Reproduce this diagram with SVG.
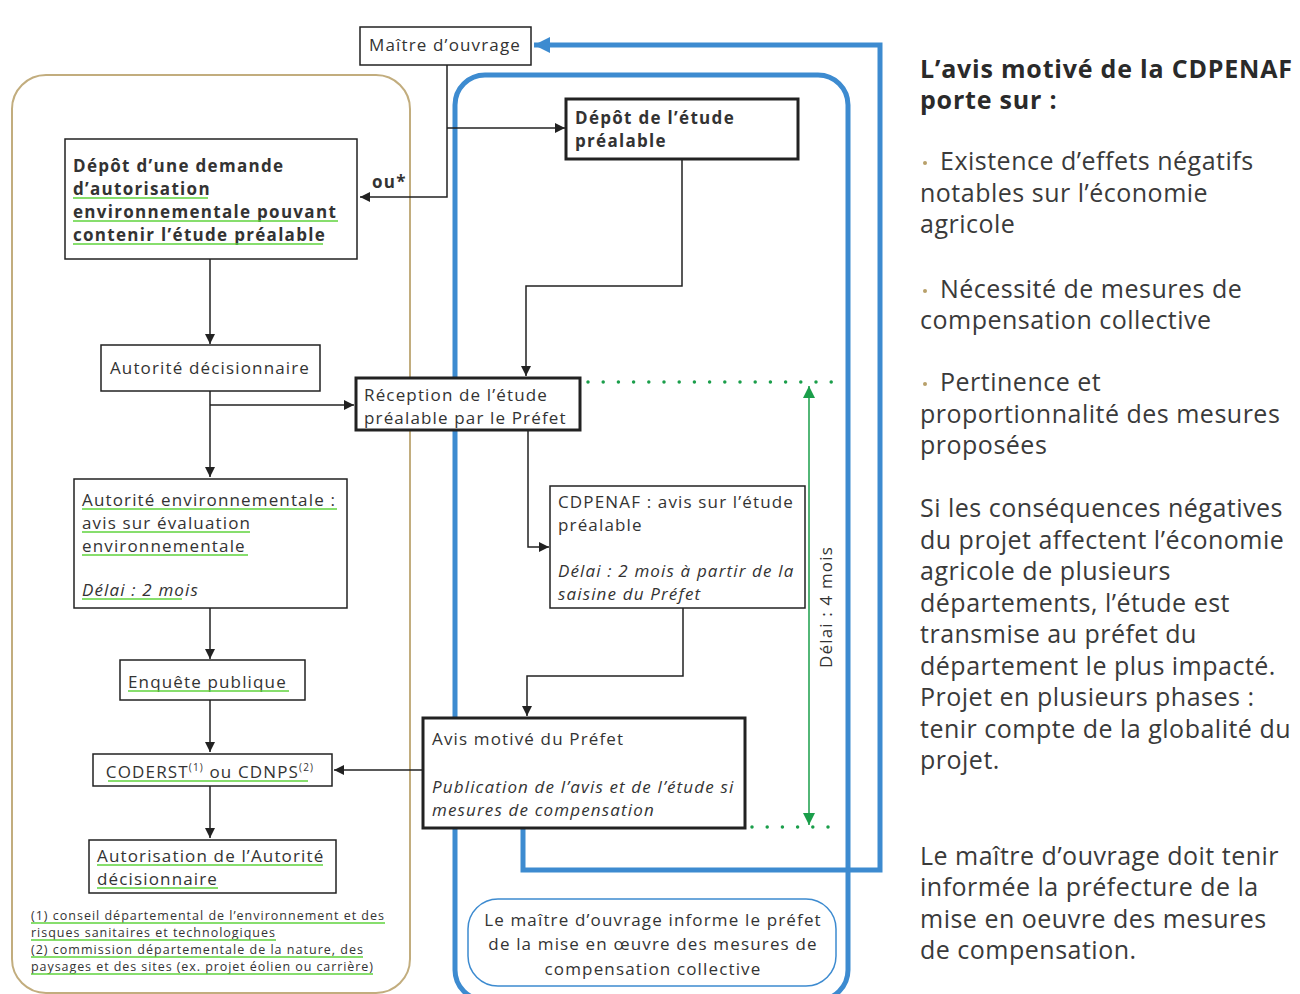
<svg xmlns="http://www.w3.org/2000/svg" width="1300" height="994" viewBox="0 0 1300 994">
<defs>
<style>
.t{font-family:"Open Sans","DejaVu Sans",sans-serif;font-size:17px;letter-spacing:1.15px;fill:#333}
.b{font-weight:bold;letter-spacing:1.3px}
.i{font-style:italic}
.box{fill:#fff;stroke:#222;stroke-width:1.5}
.thick{stroke-width:3}
.con{fill:none;stroke:#222;stroke-width:1.5}
.gl{stroke:#5fd33c;stroke-width:1.5}
.fn{font-size:12.5px;letter-spacing:0}
.rt{font-family:"Open Sans","DejaVu Sans",sans-serif;font-size:25px;letter-spacing:0.5px;fill:#3a3a3a}
.rt.b{font-size:25px;letter-spacing:0.8px;fill:#2a2a2a}
.dot{fill:#b8a06a}
</style>
<marker id="ah" viewBox="0 0 10 10" refX="10" refY="5" markerWidth="10" markerHeight="10" markerUnits="userSpaceOnUse" orient="auto"><path d="M0,0 L10,5 L0,10 z" fill="#222"/></marker>
<marker id="bh" viewBox="0 0 10 10" refX="10" refY="5" markerWidth="22" markerHeight="16" markerUnits="userSpaceOnUse" orient="auto"><path d="M0,0 L10,5 L0,10 z" fill="#3d8bd0"/></marker>
<marker id="gh" viewBox="0 0 10 10" refX="10" refY="5" markerWidth="14" markerHeight="12" markerUnits="userSpaceOnUse" orient="auto-start-reverse"><path d="M0,0 L10,5 L0,10 z" fill="#1a9e4a"/></marker>
</defs>
<rect width="1300" height="994" fill="#fff"/>

<!-- containers -->
<rect x="12" y="75" width="398" height="918" rx="34" fill="none" stroke="#c2ad7e" stroke-width="2"/>
<rect x="455" y="75" width="393" height="925" rx="30" fill="none" stroke="#3d8bd0" stroke-width="5"/>

<!-- connectors -->
<g id="connectors">
<path class="con" d="M447,65 V197 H360" marker-end="url(#ah)"/>
<path class="con" d="M447,128 H565" marker-end="url(#ah)"/>
<path class="con" d="M210,259 V344" marker-end="url(#ah)"/>
<path class="con" d="M210,391 V477" marker-end="url(#ah)"/>
<path class="con" d="M210,405 H354" marker-end="url(#ah)"/>
<path class="con" d="M682,159 V286 H526 V376" marker-end="url(#ah)"/>
<path class="con" d="M528,430 V547 H549" marker-end="url(#ah)"/>
<path class="con" d="M683,608 V676 H527 V716" marker-end="url(#ah)"/>
<path class="con" d="M423,770 H334" marker-end="url(#ah)"/>
<path class="con" d="M210,608 V659" marker-end="url(#ah)"/>
<path class="con" d="M210,700 V752" marker-end="url(#ah)"/>
<path class="con" d="M210,786 V838" marker-end="url(#ah)"/>
<path fill="none" stroke="#3d8bd0" stroke-width="5" d="M523,829 V870 H880 V45 H534" marker-end="url(#bh)"/>
<line x1="588" y1="382" x2="834" y2="382" stroke="#1a9e4a" stroke-width="3.5" stroke-linecap="round" stroke-dasharray="0 15.2"/>
<line x1="752" y1="827" x2="834" y2="827" stroke="#1a9e4a" stroke-width="3.5" stroke-linecap="round" stroke-dasharray="0 15.2"/>
<line x1="809" y1="386" x2="809" y2="825" stroke="#1a9e4a" stroke-width="1.5" marker-start="url(#gh)" marker-end="url(#gh)"/>
<text class="t" transform="translate(832,607) rotate(-90)" text-anchor="middle">Délai : 4 mois</text>
<text class="t b" x="372" y="188">ou*</text>
</g>

<g id="maitre">
<rect class="box" x="360" y="27" width="171" height="38"/>
<text class="t" x="445" y="51" text-anchor="middle">Maître d’ouvrage</text>
</g>

<g id="depot-demande">
<rect class="box" x="65" y="139" width="292" height="120"/>
<text class="t b" x="73" y="172">Dépôt d’une demande</text>
<text class="t b" x="73" y="195">d’autorisation</text>
<text class="t b" x="73" y="218">environnementale pouvant</text>
<text class="t b" x="73" y="241">contenir l’étude préalable</text>
<line class="gl" x1="73" y1="198" x2="208" y2="198"/>
<line class="gl" x1="73" y1="221" x2="338" y2="221"/>
<line class="gl" x1="73" y1="244" x2="323" y2="244"/>
</g>

<g id="depot-etude">
<rect class="box thick" x="566" y="99" width="232" height="60"/>
<text class="t b" x="575" y="124">Dépôt de l’étude</text>
<text class="t b" x="575" y="147">préalable</text>
</g>

<g id="autorite-dec">
<rect class="box" x="101" y="345" width="219" height="46"/>
<text class="t" x="210" y="374" text-anchor="middle">Autorité décisionnaire</text>
</g>

<g id="reception">
<rect class="box thick" x="356" y="378" width="224" height="52"/>
<text class="t" x="364" y="401">Réception de l’étude</text>
<text class="t" x="364" y="424">préalable par le Préfet</text>
</g>

<g id="autorite-env">
<rect class="box" x="74" y="479" width="273" height="129"/>
<text class="t" x="82" y="506">Autorité environnementale :</text>
<text class="t" x="82" y="529">avis sur évaluation</text>
<text class="t" x="82" y="552">environnementale</text>
<text class="t i" x="82" y="596">Délai : 2 mois</text>
<line class="gl" x1="82" y1="509" x2="337" y2="509"/>
<line class="gl" x1="82" y1="532" x2="250" y2="532"/>
<line class="gl" x1="82" y1="555" x2="248" y2="555"/>
<line class="gl" x1="82" y1="599" x2="182" y2="599"/>
</g>

<g id="cdpenaf">
<rect class="box" x="550" y="486" width="255" height="122"/>
<text class="t" x="558" y="508">CDPENAF : avis sur l’étude</text>
<text class="t" x="558" y="531">préalable</text>
<text class="t i" x="558" y="577">Délai : 2 mois à partir de la</text>
<text class="t i" x="558" y="600">saisine du Préfet</text>
</g>

<g id="enquete">
<rect class="box" x="120" y="660" width="185" height="40"/>
<text class="t" x="128" y="688">Enquête publique</text>
<line class="gl" x1="128" y1="691" x2="289" y2="691"/>
</g>

<g id="avis-prefet">
<rect class="box thick" x="423" y="718" width="322" height="110"/>
<text class="t" x="432" y="745">Avis motivé du Préfet</text>
<text class="t i" x="432" y="793">Publication de l’avis et de l’étude si</text>
<text class="t i" x="432" y="816">mesures de compensation</text>
</g>

<g id="coderst">
<rect class="box" x="93" y="754" width="239" height="32"/>
<text class="t" x="210" y="778" text-anchor="middle">CODERST<tspan font-size="10" dy="-7">(1)</tspan><tspan dy="7"> ou CDNPS</tspan><tspan font-size="10" dy="-7">(2)</tspan></text>
<line class="gl" x1="108" y1="781" x2="308" y2="781"/>
</g>

<g id="autorisation">
<rect class="box" x="89" y="840" width="247" height="53"/>
<text class="t" x="97" y="862">Autorisation de l’Autorité</text>
<text class="t" x="97" y="885">décisionnaire</text>
<line class="gl" x1="97" y1="865" x2="323" y2="865"/>
<line class="gl" x1="97" y1="888" x2="218" y2="888"/>
</g>

<g id="footnotes">
<text class="t fn" x="31" y="920" textLength="353">(1) conseil départemental de l’environnement et des</text>
<text class="t fn" x="31" y="937" textLength="244">risques sanitaires et technologiques</text>
<text class="t fn" x="31" y="954" textLength="332">(2) commission départementale de la nature, des</text>
<text class="t fn" x="31" y="971" textLength="342">paysages et des sites (ex. projet éolien ou carrière)</text>
<line class="gl" x1="31" y1="923" x2="385" y2="923"/>
<line class="gl" x1="31" y1="940" x2="276" y2="940"/>
<line class="gl" x1="31" y1="957" x2="363" y2="957"/>
<line class="gl" x1="31" y1="974" x2="373" y2="974"/>
</g>

<g id="info-box">
<rect x="468" y="899" width="368" height="87" rx="30" fill="#fff" stroke="#3d8bd0" stroke-width="1.5"/>
<text class="t" x="653" y="926" text-anchor="middle">Le maître d’ouvrage informe le préfet</text>
<text class="t" x="653" y="950" text-anchor="middle">de la mise en œuvre  des mesures de</text>
<text class="t" x="653" y="975" text-anchor="middle">compensation collective</text>
</g>

<g id="right-panel">
<text class="rt b" x="920" y="78">L’avis motivé de la CDPENAF</text>
<text class="rt b" x="920" y="109">porte sur :</text>
<circle class="dot" cx="925" cy="163" r="2"/>
<text class="rt" x="940" y="170">Existence d’effets négatifs</text>
<text class="rt" x="920" y="202">notables sur l’économie</text>
<text class="rt" x="920" y="233">agricole</text>
<circle class="dot" cx="925" cy="291" r="2"/>
<text class="rt" x="940" y="298">Nécessité de mesures de</text>
<text class="rt" x="920" y="329">compensation collective</text>
<circle class="dot" cx="925" cy="384" r="2"/>
<text class="rt" x="940" y="391">Pertinence et</text>
<text class="rt" x="920" y="423">proportionnalité des mesures</text>
<text class="rt" x="920" y="454">proposées</text>
<text class="rt" x="920" y="517">Si les conséquences négatives</text>
<text class="rt" x="920" y="549">du projet affectent l’économie</text>
<text class="rt" x="920" y="580">agricole de plusieurs</text>
<text class="rt" x="920" y="612">départements, l’étude est</text>
<text class="rt" x="920" y="643">transmise au préfet du</text>
<text class="rt" x="920" y="675">département le plus impacté.</text>
<text class="rt" x="920" y="706">Projet en plusieurs phases :</text>
<text class="rt" x="920" y="738">tenir compte de la globalité du</text>
<text class="rt" x="920" y="769">projet.</text>
<text class="rt" x="920" y="865">Le maître d’ouvrage doit tenir</text>
<text class="rt" x="920" y="896">informée la préfecture de la</text>
<text class="rt" x="920" y="928">mise en oeuvre des mesures</text>
<text class="rt" x="920" y="959">de compensation.</text>
</g>
</svg>
